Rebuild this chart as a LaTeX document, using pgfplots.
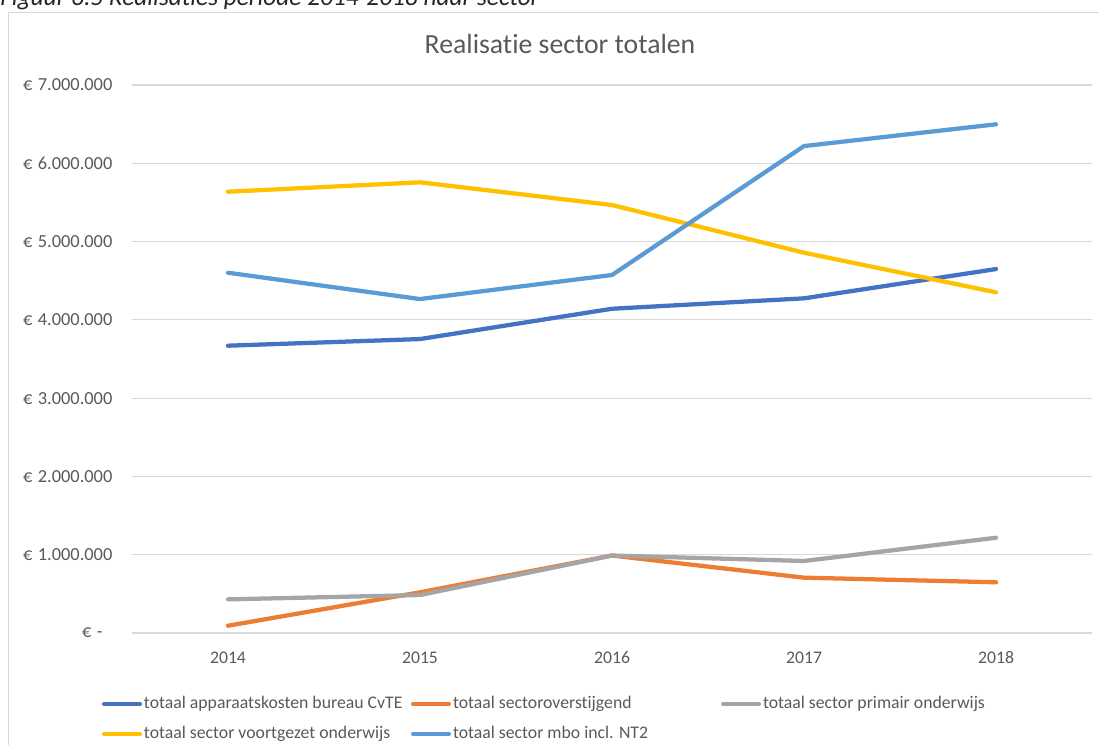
\documentclass[border=0pt]{standalone}
\usepackage{fontspec}
\setmainfont{Carlito}[Ligatures=NoCommon]
\usepackage{pgfplots}
\pgfplotsset{compat=1.18}
\definecolor{cBlue}{HTML}{4472C4}
\definecolor{cOrange}{HTML}{ED7D31}
\definecolor{cGray}{HTML}{A5A5A5}
\definecolor{cGold}{HTML}{FFC000}
\definecolor{cLight}{HTML}{5B9BD5}
\definecolor{txt}{HTML}{595959}
\definecolor{gridc}{HTML}{D9D9D9}
\newcommand{\eur}{€\kern4pt\relax}
\newcommand{\lboxA}[1]{\makebox[200.25pt][l]{#1}}
\newcommand{\lboxB}[1]{\makebox[201pt][l]{#1}}

\begin{document}
\begin{tikzpicture}
\useasboundingbox (0,0) rectangle (824.25pt,-558pt);
\clip (0,0) rectangle (824.25pt,-558pt);
% pixel coordinates of the reference, y downwards
\begin{scope}[x=0.75pt,y=-0.75pt]
  \draw[gridc, line width=1.2pt] (8.5,1000) -- (8.5,12.5) -- (1200,12.5);
  \node[anchor=base west, inner sep=0pt, font=\fontsize{19}{22}\selectfont\itshape, text=black!85]
    at (0,5) {Figuur 6.5 Realisaties periode 2014-2018 naar sector};
  \node[anchor=base, inner sep=0pt, font=\fontsize{20.8}{24}\selectfont, text=txt]
    at (560,53.5) {Realisatie sector totalen};
\end{scope}
\begin{axis}[
  at={(99pt,-474.75pt)}, anchor=south west,
  scale only axis, width=720pt, height=411pt,
  xmin=2013.5, xmax=2018.5, ymin=0, ymax=7000000,
  xtick={2014,2015,2016,2017,2018},
  xticklabels={2014,2015,2016,2017,2018},
  ytick={0,1000000,2000000,3000000,4000000,5000000,6000000,7000000},
  yticklabels={\eur-\kern7.5pt,\eur1.000.000,\eur2.000.000,\eur3.000.000,\eur4.000.000,\eur5.000.000,\eur6.000.000,\eur7.000.000},
  scaled y ticks=false,
  axis line style={draw=none},
  major tick length=0pt,
  ymajorgrids,
  grid style={draw=gridc, line width=0.9pt},
  tick label style={font=\fontsize{13.3}{16}\selectfont, text=txt, inner sep=0pt},
  xticklabel style={anchor=north, yshift=-13.9pt},
  yticklabel style={anchor=east, xshift=-14.5pt, font=\fontsize{13.8}{16}\selectfont},
  legend columns=3,
  legend cell align=left,
  legend style={at={(-0.03125,-0.115)}, anchor=north west, draw=none, fill=none,
    inner sep=0pt, outer sep=0pt, font=\fontsize{13.3}{16}\selectfont, text=txt,
    row sep=10.5pt,
    nodes={inner sep=0pt, text height=9.5pt, text depth=2.5pt},
    /tikz/every odd column/.append style={column sep=1.5pt},
    /tikz/every even column/.append style={column sep=0pt}},
  legend image code/.code={\draw[#1, line width=3.2pt, line cap=round] (1.6pt,0pt) -- (28.4pt,0pt);},
  every axis plot/.append style={line width=3.2pt, line cap=round, line join=round, mark=none},
]
\addplot[cBlue] coordinates {(2014,3670000) (2015,3755000) (2016,4142000) (2017,4275000) (2018,4649000)};
\addlegendentry{\lboxA{totaal apparaatskosten bureau CvTE}}
\addplot[cOrange] coordinates {(2014,93000) (2015,520000) (2016,990000) (2017,707000) (2018,648000)};
\addlegendentry{\lboxB{totaal sectoroverstijgend}}
\addplot[cGray] coordinates {(2014,430000) (2015,485000) (2016,990000) (2017,920000) (2018,1217000)};
\addlegendentry{totaal sector primair onderwijs}
\addplot[cGold] coordinates {(2014,5637000) (2015,5757000) (2016,5467000) (2017,4858000) (2018,4352000)};
\addlegendentry{\lboxA{totaal sector voortgezet onderwijs}}
\addplot[cLight] coordinates {(2014,4602000) (2015,4266000) (2016,4573000) (2017,6220000) (2018,6498000)};
\addlegendentry{\lboxB{totaal sector mbo incl. NT2}}
\end{axis}
\end{tikzpicture}
\end{document}
